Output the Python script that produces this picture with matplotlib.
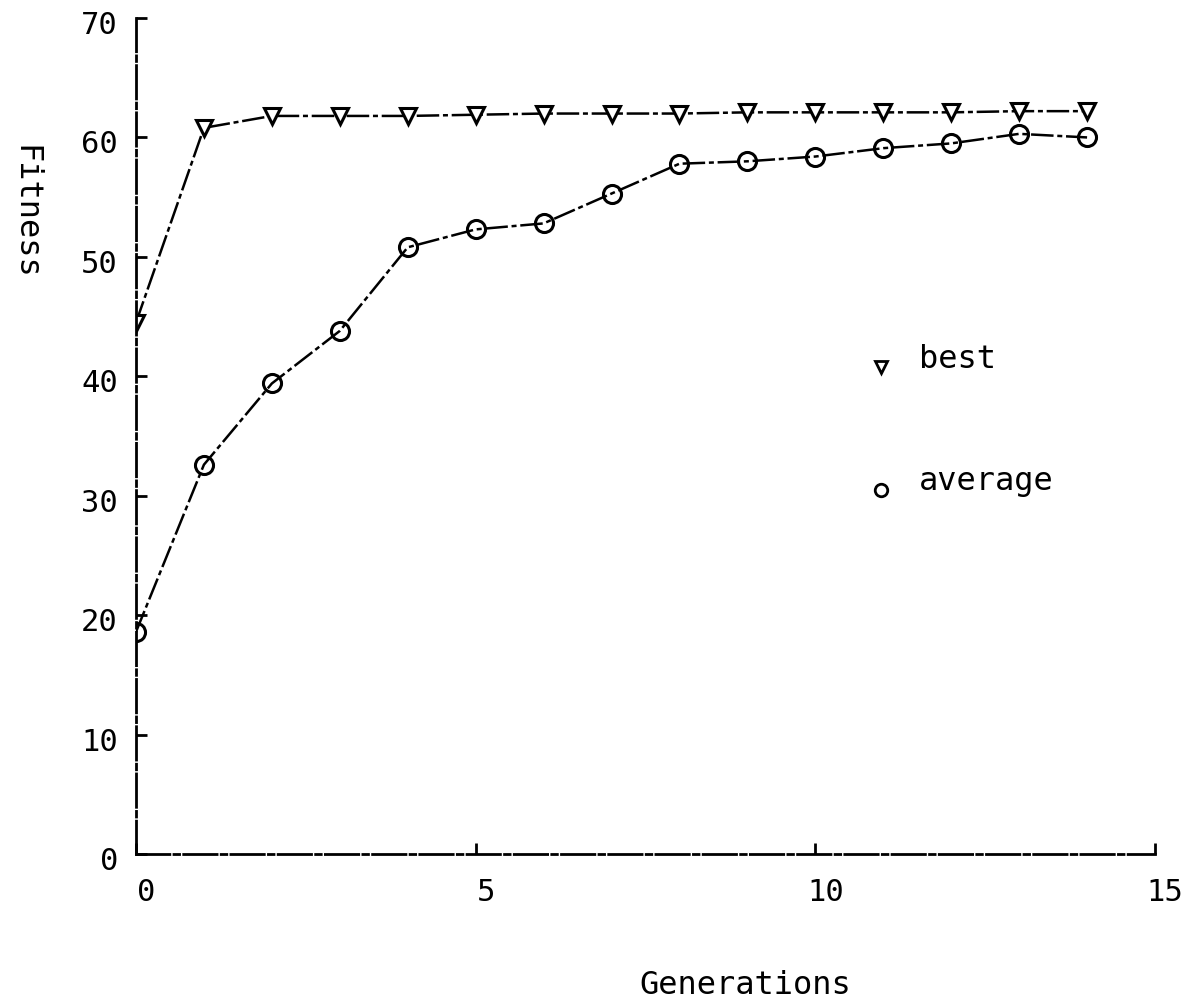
import matplotlib
matplotlib.use("Agg")
import matplotlib.pyplot as plt
from matplotlib.transforms import ScaledTranslation

# Данные
generations = list(range(15))
best = [44.5, 60.8, 61.8, 61.8, 61.8, 61.9, 62.0, 62.0, 62.0, 62.1, 62.1, 62.1, 62.1, 62.2, 62.2]
average = [18.6, 32.6, 39.4, 43.8, 50.8, 52.3, 52.8, 55.3, 57.8, 58.0, 58.4, 59.1, 59.5, 60.3, 60.0]
x_ticks = [0, 5, 10, 15]
y_ticks = [0, 10, 20, 30, 40, 50, 60, 70]

plt.rcParams['font.family'] = ['DejaVu Sans Mono']
fs = 23      # подписи осей и легенда
fs_tick = 22  # подписи делений

fig = plt.figure(figsize=(12.04, 10.01), dpi=100)
ax = fig.add_axes([136 / 1204, 1 - 854 / 1001, (1155 - 136) / 1204, (854 - 18) / 1001])

dash = (0, (9, 1.5, 2, 1.5))
ax.plot(generations, best, color='black', lw=1.8, linestyle=dash,
        marker='v', markersize=12, markerfacecolor='white', markeredgewidth=2.2)
ax.plot(generations, average, color='black', lw=1.8, linestyle=dash,
        marker='o', markersize=13, markerfacecolor='none', markeredgewidth=2.2)

# "Легенда" прямо в поле графика
ax.plot([10.97], [40.8], marker='v', color='black', markersize=9,
        markerfacecolor='white', markeredgewidth=2, linestyle='none')
ax.text(11.53, 41.4, 'best', fontsize=fs, va='center', ha='left')
ax.plot([10.97], [30.5], marker='o', color='black', markersize=9,
        markerfacecolor='none', markeredgewidth=2, linestyle='none')
ax.text(11.53, 31.2, 'average', fontsize=fs, va='center', ha='left')

ax.set_xlim(0, 15)
ax.set_ylim(0, 70)
ax.set_xticks(x_ticks)
ax.set_yticks(y_ticks)
ax.tick_params(axis='both', direction='in', length=8, width=2, labelsize=fs_tick)
ax.tick_params(axis='x', pad=17)
ax.tick_params(axis='y', pad=13)

# подписи делений у плоттера немного смещены
for lbl in ax.get_xticklabels():
    lbl.set_transform(lbl.get_transform() + ScaledTranslation(0.10, 0, fig.dpi_scale_trans))
for lbl in ax.get_yticklabels():
    lbl.set_transform(lbl.get_transform() + ScaledTranslation(0, -0.045, fig.dpi_scale_trans))

for side in ['top', 'right']:
    ax.spines[side].set_visible(False)
for side in ['left', 'bottom']:
    ax.spines[side].set_linewidth(2)
    ax.spines[side].set_linestyle((0, (12, 1.5, 2, 1.5)))

fig.text(25 / 1204, 1 - 212 / 1001, 'Fitness', rotation=-90, fontsize=fs,
         ha='center', va='center')
fig.text(745 / 1204, 1 - 985 / 1001, 'Generations', fontsize=fs,
         ha='center', va='center')

fig.savefig('out.png', dpi=100)
